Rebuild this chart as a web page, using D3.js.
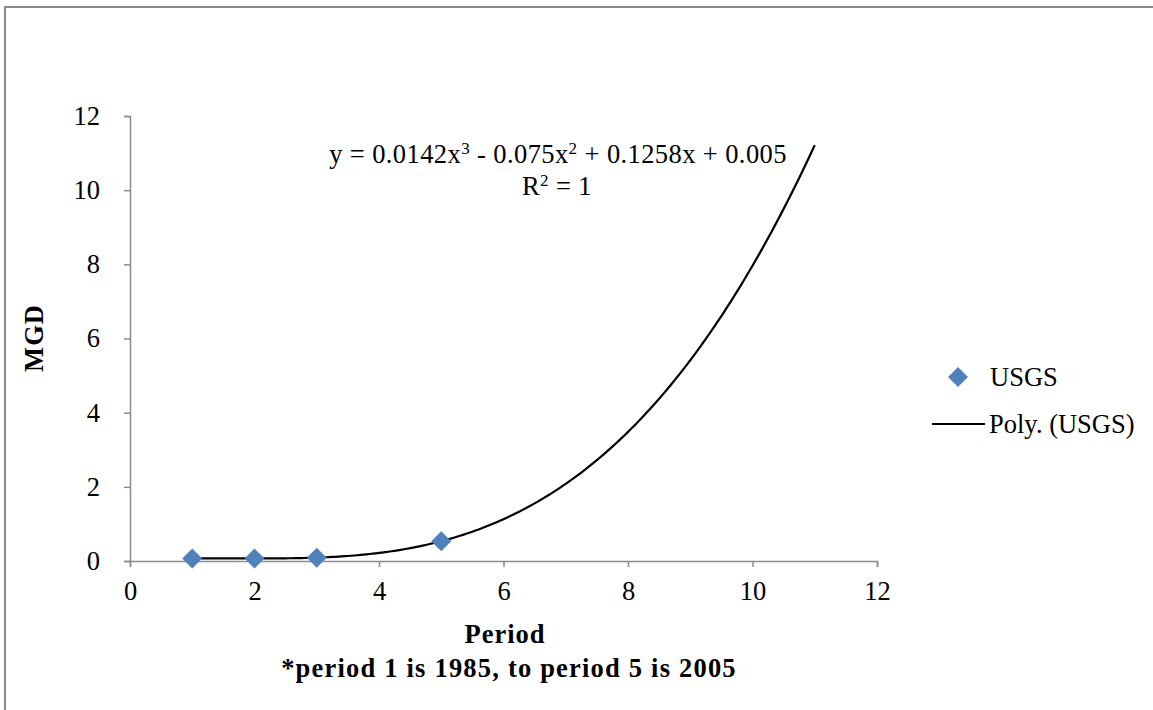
<!DOCTYPE html>
<html>
<head>
<meta charset="utf-8">
<script src="https://cdn.jsdelivr.net/npm/d3@7"></script>
<style>
  html, body { margin: 0; padding: 0; background: #fff; }
  svg { display: block; }
  text { font-family: "Liberation Serif", "DejaVu Serif", serif; fill: #000; }
</style>
</head>
<body>
<svg id="chart" width="1153" height="710"></svg>
<script>
// Period index of each USGS observation and its MGD value
const periods = [1, 2, 3, 5];
const mgd = [0.07, 0.07, 0.09, 0.53];

// Cubic trendline coefficients (x^3, x^2, x, constant)
const polyCoef = [0.0142, -0.075, 0.1258, 0.005];
const trendRange = [1, 11];

const xTicks = [0, 2, 4, 6, 8, 10, 12];
const yTicks = [0, 2, 4, 6, 8, 10, 12];

const seriesName = "USGS";
const trendName = "Poly. (USGS)";

const svg = d3.select("#chart");
const W = 1153, H = 710;
const FS = 26.5;
const SUP = 17;

// Outer chart frame
svg.append("rect")
  .attr("x", 5).attr("y", 7)
  .attr("width", W + 10).attr("height", H + 10)
  .attr("fill", "none")
  .attr("stroke", "#898989")
  .attr("stroke-width", 2);

const x = d3.scaleLinear().domain([0, 12]).range([130, 877]);
const y = d3.scaleLinear().domain([0, 12]).range([561, 116]);

const axisColor = "#8c8c8c";

// Y axis
const gy = svg.append("g")
  .attr("transform", `translate(${x(0)},0)`)
  .call(d3.axisLeft(y).tickValues(yTicks).tickSize(6).tickPadding(24).tickFormat(d3.format("d")));
gy.attr("font-family", null);
gy.select(".domain").attr("stroke", axisColor).attr("stroke-width", 1.5);
gy.selectAll(".tick line").attr("stroke", axisColor).attr("stroke-width", 1.5);
gy.selectAll(".tick text").attr("font-size", FS).attr("fill", "#000");

// X axis
const gx = svg.append("g")
  .attr("transform", `translate(0,${y(0)})`)
  .call(d3.axisBottom(x).tickValues(xTicks).tickSize(6).tickPadding(14).tickFormat(d3.format("d")));
gx.attr("font-family", null);
gx.select(".domain").attr("stroke", axisColor).attr("stroke-width", 1.5);
gx.selectAll(".tick line").attr("stroke", axisColor).attr("stroke-width", 1.5);
gx.selectAll(".tick text").attr("font-size", FS).attr("fill", "#000");

// Trendline from the polynomial coefficients
const poly = v => polyCoef[0] * v * v * v + polyCoef[1] * v * v + polyCoef[2] * v + polyCoef[3];
const trendPts = d3.range(trendRange[0], trendRange[1] + 0.001, 0.05).map(v => [v, poly(v)]);
svg.append("path")
  .datum(trendPts)
  .attr("fill", "none")
  .attr("stroke", "#000")
  .attr("stroke-width", 2.2)
  .attr("d", d3.line().x(d => x(d[0])).y(d => y(d[1])));

// Data markers (diamonds)
const diamond = d3.symbol().type(d3.symbolSquare).size(200);
svg.append("g").selectAll("path")
  .data(periods.map((p, i) => [p, mgd[i]]))
  .join("path")
  .attr("d", diamond)
  .attr("transform", d => `translate(${x(d[0])},${y(d[1])}) rotate(45)`)
  .attr("fill", "#4f81bd");

// Equation label
const eq = svg.append("text")
  .attr("x", 558).attr("y", 163)
  .attr("text-anchor", "middle")
  .attr("letter-spacing", 0.4)
  .attr("font-size", FS);
eq.append("tspan").text("y = 0.0142x");
eq.append("tspan").attr("font-size", SUP).attr("dy", -9).text("3");
eq.append("tspan").attr("dy", 9).text(" - 0.075x");
eq.append("tspan").attr("font-size", SUP).attr("dy", -9).text("2");
eq.append("tspan").attr("dy", 9).text(" + 0.1258x + 0.005");

const r2 = svg.append("text")
  .attr("x", 557).attr("y", 195)
  .attr("text-anchor", "middle")
  .attr("letter-spacing", 0.4)
  .attr("font-size", FS);
r2.append("tspan").text("R");
r2.append("tspan").attr("font-size", SUP).attr("dy", -9).text("2");
r2.append("tspan").attr("dy", 9).text(" = 1");

// Axis titles
svg.append("text")
  .attr("transform", "translate(43,338) rotate(-90)")
  .attr("text-anchor", "middle")
  .attr("font-size", FS)
  .attr("font-weight", "bold")
  .attr("letter-spacing", 1)
  .text("MGD");

svg.append("text")
  .attr("x", 505).attr("y", 643)
  .attr("text-anchor", "middle")
  .attr("font-size", FS)
  .attr("font-weight", "bold")
  .attr("letter-spacing", 1)
  .text("Period");

svg.append("text")
  .attr("x", 509).attr("y", 677)
  .attr("text-anchor", "middle")
  .attr("font-size", FS)
  .attr("font-weight", "bold")
  .attr("letter-spacing", 1.2)
  .text("*period 1 is 1985, to period 5 is 2005");

// Legend
const legend = svg.append("g");
legend.append("path")
  .attr("d", diamond)
  .attr("transform", "translate(958,377) rotate(45)")
  .attr("fill", "#4f81bd");
legend.append("text")
  .attr("x", 990).attr("y", 386)
  .attr("font-size", FS)
  .text(seriesName);
legend.append("line")
  .attr("x1", 932).attr("x2", 985)
  .attr("y1", 424).attr("y2", 424)
  .attr("stroke", "#000")
  .attr("stroke-width", 2.2);
legend.append("text")
  .attr("x", 989).attr("y", 433)
  .attr("font-size", FS)
  .text(trendName);
</script>
</body>
</html>
